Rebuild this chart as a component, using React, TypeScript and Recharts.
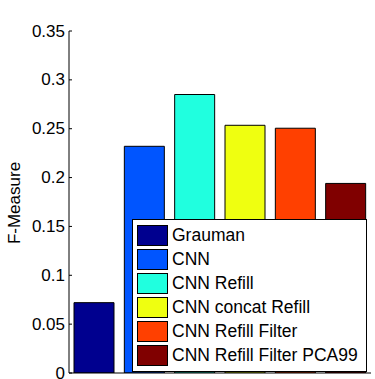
import React from 'react';
import { Bar, BarChart, Cell, Legend, XAxis, YAxis } from 'recharts';

const methods = [
  'Grauman',
  'CNN',
  'CNN Refill',
  'CNN concat Refill',
  'CNN Refill Filter',
  'CNN Refill Filter PCA99',
];
const fMeasure = [0.072, 0.232, 0.285, 0.2535, 0.2505, 0.194];
const barColors = ['#00008f', '#0055ff', '#20ffdf', '#efff10', '#ff4000', '#800000'];
const yTicks = [0, 0.05, 0.1, 0.15, 0.2, 0.25, 0.3, 0.35];
const yTickLabels = ['0', '0.05', '0.1', '0.15', '0.2', '0.25', '0.3', '0.35'];

const FONT = '"Liberation Sans", Arial, sans-serif';

const data = methods.map((name, i) => ({ name, value: fMeasure[i] }));

// MATLAB style: label left of axis, short tick pointing inward
function YTick(props: any) {
  const { x, y, index } = props;
  return (
    <g>
      <text x={x} y={y} textAnchor="end" dominantBaseline="central" fontSize={17} fill="#000" fontFamily={FONT}>
        {yTickLabels[index]}
      </text>
      <line x1={x + 4} x2={x + 7} y1={y} y2={y} stroke="#000" strokeWidth={1} />
    </g>
  );
}

function YLabel() {
  return (
    <text
      x={20}
      y={203}
      transform="rotate(-90, 20, 203)"
      textAnchor="middle"
      fontSize={17}
      fill="#000"
      fontFamily={FONT}
    >
      F-Measure
    </text>
  );
}

function LegendBox() {
  return (
    <div
      style={{
        width: 233,
        height: 148,
        border: '1px solid #000',
        background: '#fff',
        fontFamily: FONT,
        fontSize: 17.5,
        color: '#000',
        paddingTop: 3,
        boxSizing: 'content-box',
      }}
    >
      {methods.map((m, i) => (
        <div key={m} style={{ display: 'flex', alignItems: 'center', height: 24 }}>
          <div
            style={{
              marginLeft: 4,
              width: 29,
              height: 19,
              background: barColors[i],
              border: '1px solid #000',
            }}
          />
          <span style={{ marginLeft: 4, lineHeight: '20px' }}>{m}</span>
        </div>
      ))}
    </div>
  );
}

export default function App() {
  return (
    <div style={{ position: 'absolute', left: 0, top: 0, width: 375, height: 379, background: '#fff' }}>
      <BarChart
        width={375}
        height={379}
        data={data}
        margin={{ top: 31, right: 4, bottom: 0, left: 0 }}
        style={{ fontFamily: FONT }}
      >
        <XAxis dataKey="name" height={6} tick={false} tickLine={false} axisLine={{ stroke: '#000' }} />
        <YAxis
          width={69}
          domain={[0, 0.35]}
          ticks={yTicks}
          interval={0}
          tickSize={0}
          tickMargin={4}
          tick={<YTick />}
          axisLine={{ stroke: '#000' }}
          allowDataOverflow
        />
        <Bar dataKey="value" barSize={40} stroke="#000" strokeWidth={1} isAnimationActive={false}>
          {data.map((d, i) => (
            <Cell key={d.name} fill={barColors[i]} />
          ))}
        </Bar>
        <Legend
          layout="vertical"
          align="center"
          verticalAlign="middle"
          wrapperStyle={{ left: 132, top: 219, width: 235, height: 152 }}
          content={() => <LegendBox />}
        />
        <YLabel />
      </BarChart>
    </div>
  );
}
